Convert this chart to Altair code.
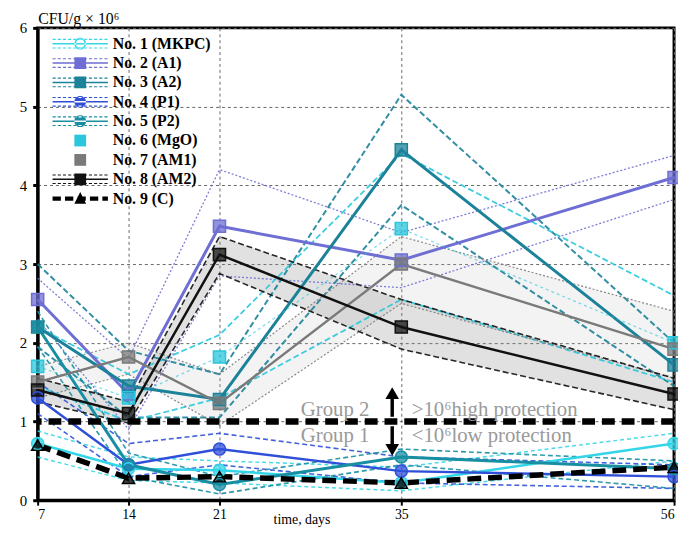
import altair as alt
import pandas as pd

# ---------------- data ----------------
days = [7, 14, 21, 35, 56]
series = ["No. 1 (MKPC)", "No. 2 (A1)", "No. 3 (A2)", "No. 4 (P1)", "No. 5 (P2)",
          "No. 6 (MgO)", "No. 7 (AM1)", "No. 8 (AM2)", "No. 9 (C)"]

mkpc_mean = [0.72, 0.40, 0.38, 0.22, 0.72]
mkpc_up = [0.88, 0.55, 0.50, 0.42, 0.85]
mkpc_lo = [0.55, 0.25, 0.22, 0.12, 0.50]

a1_mean = [2.55, 1.35, 3.48, 3.05, 4.10]
a1_up = [2.82, 1.80, 4.20, 3.40, 4.38]
a1_lo = [2.30, 0.90, 2.85, 2.70, 3.82]

a2_mean = [2.20, 1.45, 1.28, 4.45, 1.72]
a2_up = [3.00, 1.90, 1.60, 5.15, 2.00]
a2_lo = [1.95, 1.05, 1.05, 3.75, 1.45]

p1_mean = [1.30, 0.45, 0.65, 0.37, 0.30]
p1_up = [1.50, 0.72, 0.85, 0.55, 0.45]
p1_lo = [1.10, 0.30, 0.45, 0.22, 0.15]

p2_mean = [2.20, 0.45, 0.20, 0.55, 0.40]
p2_up = [2.40, 0.60, 0.30, 0.65, 0.50]
p2_lo = [1.95, 0.30, 0.08, 0.45, 0.15]

mgo_mean = [1.70, 1.30, 1.82, 3.45, 2.00]
mgo_up = [2.20, 1.60, 2.10, 4.40, 2.60]
mgo_lo = [1.45, 1.00, 1.30, 2.55, 1.50]

am1_mean = [1.50, 1.82, 1.23, 3.00, 1.92]
am1_up = [1.70, 2.00, 1.60, 3.35, 2.40]
am1_lo = [1.30, 1.60, 0.95, 2.50, 1.55]

am2_mean = [1.40, 1.10, 3.12, 2.20, 1.35]
am2_up = [1.55, 1.25, 3.35, 2.55, 1.55]
am2_lo = [1.25, 0.98, 2.88, 1.92, 1.15]

c_mean = [0.70, 0.28, 0.30, 0.22, 0.42]

threshold = [1.0]

ann_text = ["Group 2", "Group 1", ">10\u2076high protection", "<10\u2076low protection"]
ann_day = [29.9, 29.9, 35.8, 35.8]
ann_value = [1.14, 0.82, 1.14, 0.82]
ann_align = ["center", "center", "left", "left"]

arrow_day = [34.3, 34.3]
arrow_from = [1.06, 0.94]
arrow_to = [1.30, 0.70]
arrow_head = [1.36, 0.64]
arrow_shape = ["triangle-up", "triangle-down"]

colors = ["#33d6e8", "#6e6ed4", "#1b8299", "#2f4fd9", "#178ea2",
          "#29c6dc", "#7a7a7a", "#111111", "#000000"]
marker_shapes = ["circle", "square", "square", "circle", "circle",
                 "square", "square", "square", "triangle-up"]

means = [mkpc_mean, a1_mean, a2_mean, p1_mean, p2_mean, mgo_mean, am1_mean, am2_mean, c_mean]
uppers = [mkpc_up, a1_up, a2_up, p1_up, p2_up, mgo_up, am1_up, am2_up, None]
lowers = [mkpc_lo, a1_lo, a2_lo, p1_lo, p2_lo, mgo_lo, am1_lo, am2_lo, None]

# line styles (style only, not data)
band_dash = [[4, 3], [2, 2], [6, 3], [5, 3], [5, 3], [6, 3], [2, 2], [6, 3], None]
band_width = [1.5, 1.3, 2.0, 1.6, 1.6, 1.8, 1.2, 1.6, None]
mean_dash = [None, None, None, None, None, [3, 3], None, None, [14, 7]]
mean_width = [2.5, 3.0, 3.0, 2.5, 3.0, 1.3, 2.5, 2.5, 5.5]
mean_opacity = [1, 1, 1, 1, 1, 0.6, 1, 1, 1]
area_fill = {"No. 7 (AM1)": ("#bbbbbb", 0.18), "No. 8 (AM2)": ("#888888", 0.25)}

# ---------------- tables ----------------
rows_mean, rows_band, rows_area = [], [], []
for i, name in enumerate(series):
    for j, d in enumerate(days):
        rows_mean.append({"series": name, "day": d, "value": means[i][j]})
        if uppers[i] is not None:
            rows_band.append({"series": name, "day": d, "value": uppers[i][j], "bound": "upper"})
            rows_band.append({"series": name, "day": d, "value": lowers[i][j], "bound": "lower"})
            rows_area.append({"series": name, "day": d, "value": lowers[i][j], "value2": uppers[i][j]})
df_mean = pd.DataFrame(rows_mean)
df_band = pd.DataFrame(rows_band)
df_area = pd.DataFrame(rows_area)

# ---------------- legend glyphs ----------------
def f(v):
    return f"{v:.2f}"

def rect(x0, x1, y0, y1):
    return f"M{f(x0)},{f(y0)}H{f(x1)}V{f(y1)}H{f(x0)}Z"

def dashes(y, th, dl, gap, x0=-0.7, x1=7.3):
    out, x = [], x0
    while x < x1:
        out.append(rect(x, min(x + dl, x1), y - th, y + th))
        x += dl + gap
    return "".join(out)

def glyph(kind, band, center):
    cx, r = 3.3, 0.85
    p = ""
    if center == "thickdash":
        p += dashes(0, 0.32, 1.2, 0.6)
    elif center == "solid":
        p += rect(-0.7, 7.3, -0.11, 0.11)
    if band:
        p += dashes(-0.62, 0.08, 0.45, 0.3) + dashes(0.62, 0.08, 0.45, 0.3)
    if kind == "circle":
        p += f"M{f(cx-r)},0A{r},{r} 0 1,0 {f(cx+r)},0A{r},{r} 0 1,0 {f(cx-r)},0Z"
    elif kind == "ring":
        ri = r - 0.22
        p += f"M{f(cx-r)},0A{r},{r} 0 1,0 {f(cx+r)},0A{r},{r} 0 1,0 {f(cx-r)},0Z"
        p += f"M{f(cx-ri)},0A{ri},{ri} 0 1,1 {f(cx+ri)},0A{ri},{ri} 0 1,1 {f(cx-ri)},0Z"
    elif kind == "square":
        p += rect(cx - r, cx + r, -r, r)
    elif kind == "triangle":
        p += f"M{f(cx)},-0.95L{f(cx+0.85)},0.75L{f(cx-0.85)},0.75Z"
    return p

legend_paths = [
    glyph("ring", True, "solid"),
    glyph("square", True, "solid"),
    glyph("square", True, "solid"),
    glyph("circle", True, "solid"),
    glyph("circle", True, "solid"),
    glyph("square", False, "none"),
    glyph("square", False, "none"),
    glyph("square", True, "solid"),
    glyph("triangle", False, "thickdash"),
]

# ---------------- shared encodings ----------------
xaxis = alt.Axis(values=days, title="time, days", grid=True, gridDash=[3, 3],
                 gridColor="#666", gridWidth=1, domainWidth=3, domainColor="black",
                 tickColor="black", tickWidth=2, tickSize=5, labelPadding=2,
                 labelFontSize=14, labelFont="Liberation Serif", labelColor="black",
                 titleFont="Liberation Serif", titleFontSize=14, titleFontWeight="normal",
                 titleX=267, titleY=24, titleBaseline="alphabetic", titleAlign="center")
yaxis = alt.Axis(values=[0, 1, 2, 3, 4, 5, 6], title="CFU/g  \u00d7 10\u2076", grid=True,
                 gridDash=[3, 3], gridColor="#666", gridWidth=1, domainWidth=3,
                 domainColor="black", tickColor="black", tickWidth=3, tickSize=5,
                 labelPadding=6, labelFontSize=15, labelFont="Liberation Serif",
                 labelColor="black", titleFont="Liberation Serif", titleFontSize=16,
                 titleFontWeight="normal", titleAngle=0, titleX=0, titleY=-9,
                 titleAlign="left", titleBaseline="middle")
xs = alt.Scale(domain=[7, 56], nice=False, zero=False)
ys = alt.Scale(domain=[0, 6], nice=False)
X = alt.X("day:Q", scale=xs, axis=xaxis)
Y = alt.Y("value:Q", scale=ys, axis=yaxis)

color_nl = alt.Color("series:N", scale=alt.Scale(domain=series, range=colors), legend=None)

# ---------------- layers ----------------
layers = []

for name, (fill, op) in area_fill.items():
    layers.append(
        alt.Chart(df_area).transform_filter(alt.datum.series == name)
        .mark_area(color=fill, opacity=op)
        .encode(x=X, y=Y, y2="value2:Q"))

for i, name in enumerate(series):
    if uppers[i] is None:
        continue
    for b in ["upper", "lower"]:
        layers.append(
            alt.Chart(df_band).transform_filter((alt.datum.series == name) & (alt.datum.bound == b))
            .mark_line(color=colors[i], strokeDash=band_dash[i], strokeWidth=band_width[i], opacity=0.9)
            .encode(x=X, y=Y))

for i, name in enumerate(series):
    kw = dict(color=colors[i], strokeWidth=mean_width[i], opacity=mean_opacity[i])
    if mean_dash[i] is not None:
        kw["strokeDash"] = mean_dash[i]
    layers.append(
        alt.Chart(df_mean).transform_filter(alt.datum.series == name)
        .mark_line(**kw).encode(x=X, y=Y))

shape_nl = alt.Shape("series:N", scale=alt.Scale(domain=series, range=marker_shapes), legend=None)
layers.append(alt.Chart(df_mean).mark_point(filled=True, opacity=0.75, size=150).encode(
    x=X, y=Y, color=color_nl, shape=shape_nl))
layers.append(alt.Chart(df_mean).mark_point(filled=False, strokeWidth=1.5, size=150, opacity=1).encode(
    x=X, y=Y, color=color_nl, shape=shape_nl))

layers.append(alt.Chart(pd.DataFrame({"value": threshold})).mark_rule(
    color="black", strokeWidth=6.5, strokeDash=[13, 7]).encode(y=Y))

df_arrow = pd.DataFrame({"day": arrow_day, "value": arrow_from, "to": arrow_to, "shape": arrow_shape})
df_head = pd.DataFrame({"day": arrow_day, "value": arrow_head, "shape": arrow_shape})
layers.append(alt.Chart(df_arrow).mark_rule(color="black", strokeWidth=3.5).encode(
    x=X, y=Y, y2="to:Q"))
layers.append(alt.Chart(df_head).mark_point(filled=True, color="black", size=190, opacity=1).encode(
    x=X, y=Y,
    shape=alt.Shape("shape:N", scale=alt.Scale(domain=arrow_shape, range=arrow_shape), legend=None)))

df_ann = pd.DataFrame({"day": ann_day, "value": ann_value, "text": ann_text, "align": ann_align})
for al in ["center", "left"]:
    layers.append(alt.Chart(df_ann).transform_filter(alt.datum.align == al).mark_text(
        font="Liberation Serif", fontSize=21, color="#9a9a9a", align=al, baseline="middle").encode(
        x=X, y=Y, text="text:N"))

leg = dict(title=None, orient="none", legendX=12, legendY=8,
           symbolOpacity=1, symbolSize=196, symbolStrokeWidth=0,
           labelOffset=48, rowPadding=3.6, padding=0,
           labelFont="Liberation Serif", labelFontSize=16,
           labelFontWeight="bold", labelColor="black", labelLimit=300)
layers.append(alt.Chart(df_mean).transform_filter(alt.datum.day == 7).mark_point(
    filled=True, opacity=0, size=196).encode(
    x=X, y=Y,
    color=alt.Color("series:N", scale=alt.Scale(domain=series, range=colors), legend=alt.Legend(**leg)),
    shape=alt.Shape("series:N", scale=alt.Scale(domain=series, range=legend_paths), legend=alt.Legend(**leg))))

chart = alt.layer(*layers).resolve_scale(color="independent", shape="independent").properties(
    width=644, height=478,
    autosize=alt.AutoSizeParams(type="none"),
    padding={"left": 30, "top": 17, "right": 4, "bottom": 28},
).configure_view(stroke="black", strokeWidth=3)

chart.save("out.html", embed_options={"renderer": "svg", "actions": False})
